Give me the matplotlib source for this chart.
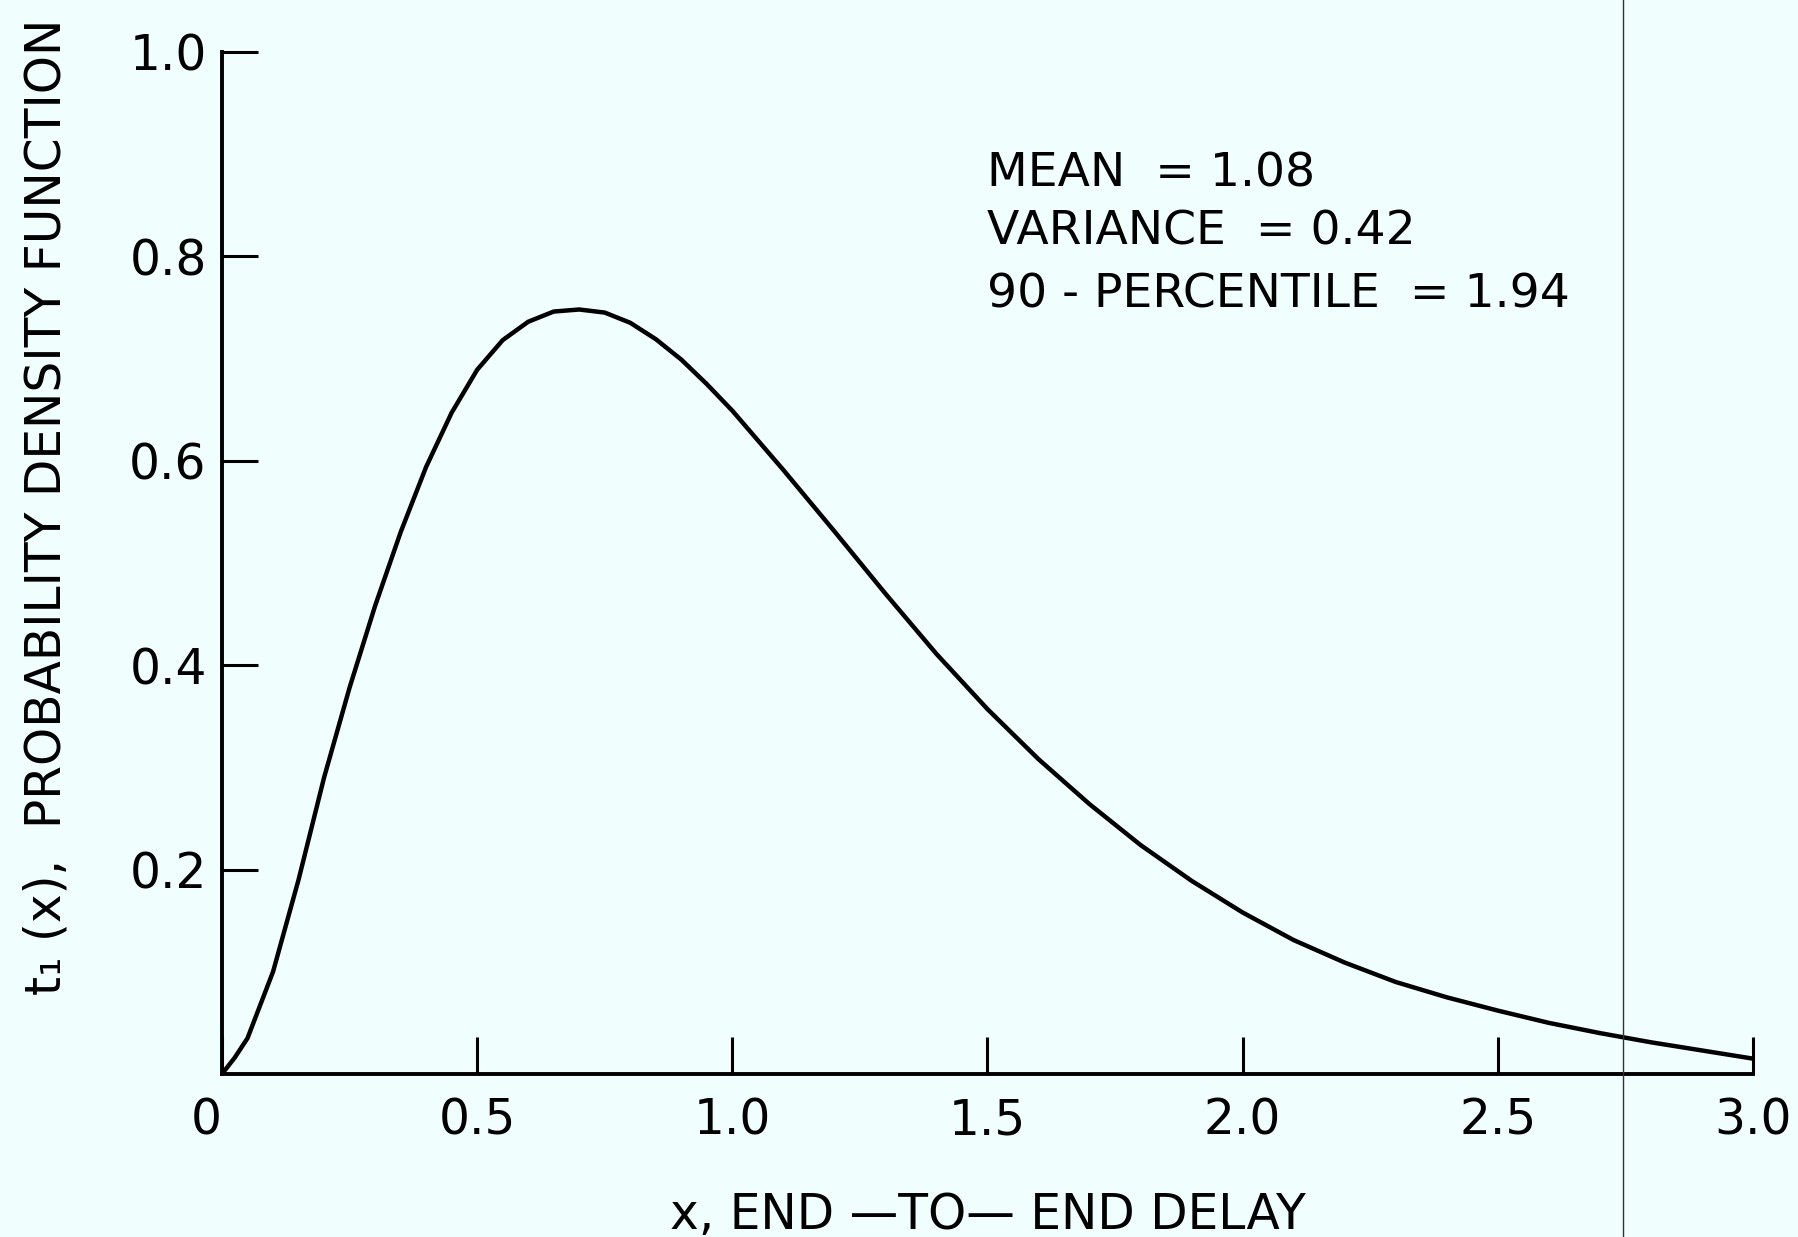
import matplotlib
matplotlib.use('Agg')
import matplotlib.pyplot as plt
from matplotlib.lines import Line2D

# curve
x = [0, 0.025, 0.05, 0.10, 0.15, 0.20, 0.25, 0.30, 0.35, 0.40, 0.45, 0.50,
     0.55, 0.60, 0.65, 0.70, 0.75, 0.80, 0.85, 0.90, 0.95, 1.00,
     1.10, 1.20, 1.30, 1.40, 1.50, 1.60, 1.70, 1.80, 1.90, 2.00,
     2.10, 2.20, 2.30, 2.40, 2.50, 2.60, 2.70, 2.80, 2.90, 3.00]
y = [0, 0.016, 0.035, 0.100, 0.190, 0.290, 0.378, 0.458, 0.530, 0.594, 0.647, 0.689,
     0.718, 0.736, 0.746, 0.748, 0.745, 0.735, 0.719, 0.699, 0.675, 0.649,
     0.591, 0.531, 0.470, 0.411, 0.357, 0.308, 0.264, 0.224, 0.189, 0.158,
     0.131, 0.109, 0.090, 0.075, 0.062, 0.050, 0.040, 0.031, 0.023, 0.015]

x_ticks = [0, 0.5, 1.0, 1.5, 2.0, 2.5, 3.0]
x_tick_labels = ['0', '0.5', '1.0', '1.5', '2.0', '2.5', '3.0']
y_ticks = [0.2, 0.4, 0.6, 0.8, 1.0]
y_tick_labels = ['0.2', '0.4', '0.6', '0.8', '1.0']

stats = ['MEAN  = 1.08', 'VARIANCE  = 0.42', '90 - PERCENTILE  = 1.94']

bg = '#F0FEFE'
plt.rcParams['font.family'] = 'DejaVu Sans'

fig = plt.figure(figsize=(17.99, 12.37), dpi=100, facecolor=bg)
ax = fig.add_axes([0.1234, 0.1318, 0.8510, 0.8262], facecolor=bg)

ax.plot(x, y, color='black', lw=3.2, solid_capstyle='round', solid_joinstyle='round')

ax.set_xlim(0, 3.0)
ax.set_ylim(0, 1.0)
for s in ['top', 'right']:
    ax.spines[s].set_visible(False)
for s in ['left', 'bottom']:
    ax.spines[s].set_linewidth(2.8)

ax.set_xticks(x_ticks)
ax.set_xticklabels(x_tick_labels)
ax.set_yticks(y_ticks)
ax.set_yticklabels(y_tick_labels)
ax.tick_params(axis='x', direction='in', length=27, width=2.2, pad=16, labelsize=35)
ax.tick_params(axis='y', direction='in', length=26, width=2.2, pad=11, labelsize=35)
ax.get_xticklabels()[0].set_ha('right')

ax.set_xlabel('x, END —TO— END DELAY', fontsize=35, labelpad=34)
ax.set_ylabel('t₁ (x),  PROBABILITY DENSITY FUNCTION', fontsize=35)
ax.yaxis.set_label_coords(-0.099, 0.555)

stat_y = [0.868, 0.812, 0.750]
for s, yy in zip(stats, stat_y):
    ax.text(1.50, yy, s, fontsize=34, va='baseline', ha='left')

# the thin vertical crease line on the scan
fig.add_artist(Line2D([0.9022, 0.9022], [0, 1], transform=fig.transFigure,
                      color='#333333', lw=1.0))

fig.savefig('out.png', dpi=100, facecolor=bg)
